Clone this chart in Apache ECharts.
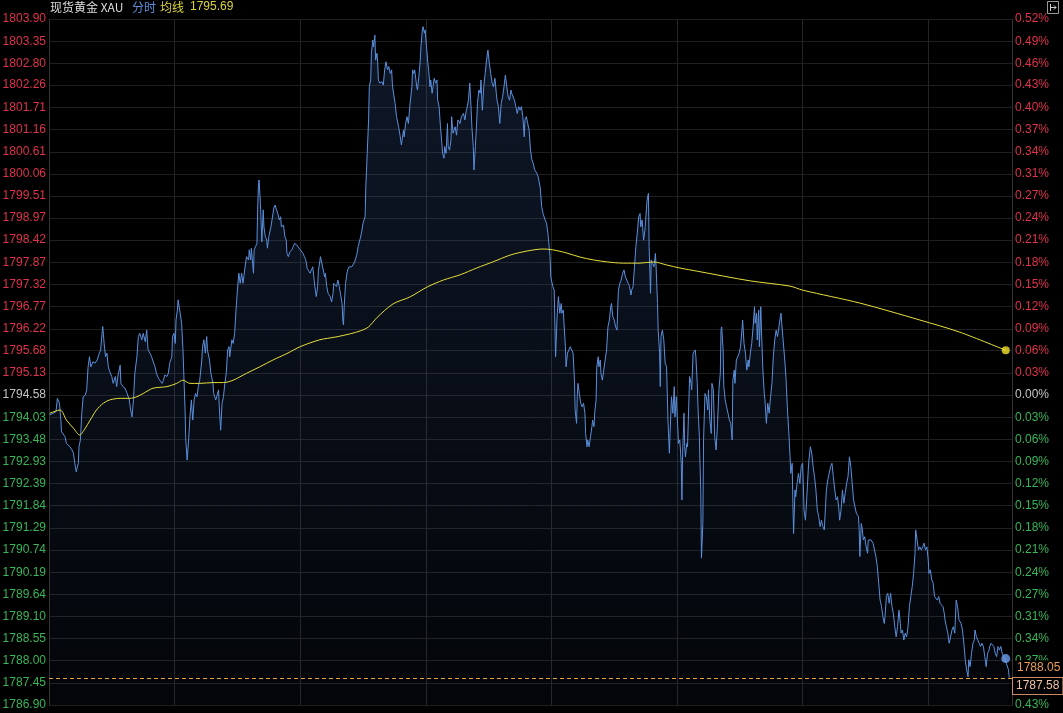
<!DOCTYPE html>
<html><head><meta charset="utf-8">
<script src="https://cdn.jsdelivr.net/npm/echarts@6/dist/echarts.min.js"></script>
<style>html,body{margin:0;padding:0;background:#000;overflow:hidden}#c{width:1063px;height:713px}</style>
</head><body><div id="c"></div>
<script>
// ---------- data ----------
const titleName = '现货黄金 XAU';
const modeName = '分时';
const avgName = '均线';
const prevClose = 1794.58;
const lastPrice = 1787.58;
const cursorTime = 1371;
const cursorPrice = 1788.05;
const avgLast = 1795.69;
const sessionMinutes = 1380;   // 23h session
const gridMinutes = 180;       // vertical grid every 3h

const priceTickLabels = ['1803.90','1803.35','1802.80','1802.26','1801.71','1801.16','1800.61','1800.06','1799.51','1798.97','1798.42','1797.87','1797.32','1796.77','1796.22','1795.68','1795.13','1794.58','1794.03','1793.48','1792.93','1792.39','1791.84','1791.29','1790.74','1790.19','1789.64','1789.10','1788.55','1788.00','1787.45','1786.90'];
const pctTickLabels = ['0.52%','0.49%','0.46%','0.43%','0.40%','0.37%','0.34%','0.31%','0.27%','0.24%','0.21%','0.18%','0.15%','0.12%','0.09%','0.06%','0.03%','0.00%','0.03%','0.06%','0.09%','0.12%','0.15%','0.18%','0.21%','0.24%','0.27%','0.31%','0.34%','0.37%','0.40%','0.43%'];

// [minute of session, price]
const segA = [[1,1794.09],[6,1794.13],[10,1794.17],[12,1794.50],[15,1794.38],[17,1793.96],[18,1793.67],[20,1793.63],[23,1793.55],[25,1793.38],[30,1793.30],[33,1793.22],[35,1793.14],[37,1792.89],[39,1792.68],[41,1792.64],[42,1792.89],[43,1793.30],[45,1793.47],[47,1794.13],[49,1794.54],[52,1794.58],[54,1794.71],[56,1795.28],[58,1795.53],[60,1795.28],[63,1795.41],[66,1795.37],[69,1795.45],[72,1795.61],[74,1795.70],[76,1796.11],[77,1796.28],[79,1795.86],[81,1795.53],[83,1795.62],[85,1795.28],[87,1795.16],[90,1795.04],[92,1794.87],[95,1795.04],[97,1794.79],[99,1795.08],[102,1795.32],[103,1794.87],[106,1794.79],[109,1794.75],[112,1794.62],[115,1794.46],[117,1794.21],[119,1794.04],[121,1794.46],[123,1795.12],[126,1795.53],[128,1796.03],[130,1796.11],[133,1795.95],[135,1796.11],[138,1795.90],[140,1796.19],[142,1795.70],[145,1795.61],[147,1795.53],[150,1795.37],[152,1795.28],[154,1795.12],[157,1794.99],[159,1794.95],[162,1794.87],[164,1794.95],[166,1795.08],[169,1795.04],[171,1795.12],[173,1795.37],[176,1795.53],[177,1796.03],[179,1796.11],[181,1795.86],[182,1796.44],[184,1796.69],[185,1796.94],[188,1796.61],[190,1796.36],[192,1795.70],[193,1795.20],[195,1794.21],[196,1793.47],[198,1792.97],[200,1793.47],[202,1794.04],[204,1794.46],[206,1793.96],[208,1794.46],[210,1794.62],[212,1794.54],[214,1794.79],[216,1794.95],[219,1795.45],[220,1795.78],[222,1795.95],[224,1795.62],[226,1796.03],[227,1795.70],[230,1795.45],[232,1795.12],[235,1794.87],[236,1794.62],[239,1794.46],[243,1794.71],[244,1794.29],[246,1793.71],[248,1794.38],[250,1794.54],[252,1794.87],[254,1795.12],[256,1795.70],[258,1795.78],[259,1795.53],[262,1795.95],[264,1795.86]];
const segB = [[266,1796.11],[268,1796.69],[270,1797.18],[272,1797.60],[274,1797.35],[276,1797.60],[278,1797.35],[281,1797.76],[283,1798.01],[286,1797.93],[287,1798.18],[289,1797.93],[290,1798.22],[293,1797.60],[294,1798.18],[296,1798.26],[298,1798.34],[299,1799.17],[300,1799.74],[301,1799.91],[303,1799.33],[305,1798.38],[307,1799.17],[308,1798.75],[310,1798.51],[312,1798.42],[313,1798.22],[315,1798.51],[318,1798.75],[321,1799.08],[322,1799.21],[324,1799.29],[326,1799.17],[328,1799.08],[330,1798.92],[332,1799.00],[333,1798.75],[336,1798.79],[338,1798.51],[340,1798.42],[341,1798.09],[343,1798.01],[345,1798.13],[348,1798.18],[350,1798.26],[352,1798.34],[355,1798.30],[357,1798.26],[360,1798.18],[362,1798.22],[364,1798.09],[366,1798.01],[368,1797.93],[370,1797.72],[372,1797.68],[374,1797.60],[376,1797.68],[378,1797.76],[380,1797.43],[381,1797.27],[383,1797.02],[385,1797.27],[386,1797.68],[387,1797.76],[389,1798.01],[391,1798.05],[393,1797.68],[395,1797.51],[396,1797.60],[398,1797.27],[400,1797.10],[403,1797.02],[405,1796.89],[407,1797.10],[408,1797.35],[410,1797.39],[412,1797.27],[414,1797.43],[416,1797.27],[418,1797.31],[420,1796.85],[421,1796.44],[422,1796.32],[423,1796.77],[425,1797.35],[427,1797.60],[428,1797.68],[430,1797.76],[432,1797.80],[434,1797.76],[436,1797.80],[438,1797.88],[441,1798.05],[443,1798.26],[446,1798.46]];
const segC = [[448,1798.62],[450,1798.84],[453,1799.00],[454,1799.74],[456,1800.57],[458,1801.40],[459,1802.22],[461,1802.39],[462,1803.05],[464,1803.38],[465,1803.21],[467,1803.50],[468,1802.88],[470,1803.05],[471,1802.84],[472,1802.39],[474,1802.31],[477,1802.35],[479,1802.26],[481,1802.64],[483,1802.84],[485,1802.64],[487,1802.72],[489,1802.55],[491,1802.64],[492,1802.31],[493,1802.14],[496,1801.81],[498,1801.48],[501,1801.23],[503,1801.02],[505,1800.78],[508,1801.15],[509,1800.98],[511,1801.31],[513,1801.48],[515,1801.31],[517,1801.73],[520,1802.22],[521,1802.64],[523,1802.55],[524,1802.64],[527,1802.22],[528,1802.14],[530,1802.47],[532,1802.88],[533,1803.21],[535,1803.63],[536,1803.71],[538,1803.55],[539,1803.63],[541,1803.21],[543,1802.80],[544,1802.64],[546,1802.22],[547,1802.39],[549,1802.06],[552,1802.43],[554,1802.31],[556,1802.39],[557,1801.89],[559,1801.73],[561,1801.23],[563,1800.82],[564,1800.57],[566,1800.45],[567,1800.74],[569,1800.57],[571,1801.31],[572,1800.74],[574,1800.65],[576,1800.90],[577,1801.48],[579,1801.07],[582,1801.23],[584,1801.02],[586,1801.40],[589,1801.31],[591,1801.48],[594,1801.56],[596,1801.40],[598,1801.64],[599,1801.69],[601,1801.89],[603,1802.31],[605,1801.64],[606,1801.23],[608,1800.74],[609,1800.16],[611,1800.74],[613,1801.40],[614,1801.81],[616,1802.14],[618,1802.06],[619,1802.39],[621,1801.64],[623,1802.22],[625,1802.55],[627,1802.88],[629,1803.13],[631,1802.80],[633,1802.55],[635,1802.31],[637,1802.22],[639,1802.43],[641,1802.06],[642,1801.89],[644,1801.73],[646,1801.31],[648,1801.81],[650,1801.97],[652,1802.22],[654,1802.51],[656,1802.22],[658,1801.97],[660,1801.89],[662,1802.14],[663,1802.06],[665,1802.10],[667,1801.89],[669,1801.73],[671,1801.56],[673,1801.73],[675,1801.64],[677,1801.73],[679,1801.48],[681,1800.98],[682,1801.40],[684,1801.48],[686,1801.31],[688,1801.15],[690,1800.65],[692,1800.41],[694,1800.32],[696,1800.16],[699,1800.08],[701,1799.99]];
const segD = [[704,1799.71],[706,1799.25],[708,1799.08],[711,1798.92],[713,1798.84],[715,1798.59],[718,1798.01],[719,1797.51],[722,1797.27],[724,1797.18],[725,1796.27],[726,1795.53],[728,1796.50],[729,1796.77],[730,1797.02],[732,1796.61],[734,1796.85],[735,1796.61],[737,1796.69],[738,1796.36],[740,1795.78],[741,1795.28],[743,1795.62],[745,1795.70],[747,1795.78],[749,1795.74],[751,1795.62],[753,1794.95],[754,1794.21],[756,1793.88],[757,1794.54],[758,1794.87],[760,1794.62],[762,1794.38],[764,1794.29],[766,1794.38],[768,1794.13],[769,1793.63],[771,1793.30],[772,1793.47],[774,1793.30],[776,1793.55],[778,1793.80],[779,1793.96],[781,1793.80],[782,1794.13],[784,1794.46],[785,1795.28],[787,1795.53],[788,1795.28],[790,1795.45],[791,1795.12],[793,1794.95],[795,1795.20],[797,1795.45],[799,1795.70],[801,1796.27],[803,1796.44],[805,1796.77],[806,1796.85],[808,1796.52],[810,1796.44],[812,1796.27],[814,1796.19],[815,1796.77],[816,1797.18],[818,1797.35],[820,1797.43],[822,1797.60],[824,1797.68],[826,1797.51],[828,1797.43],[830,1797.35],[832,1797.27],[834,1797.06],[835,1797.18],[837,1797.27],[839,1797.76],[841,1798.26],[843,1798.59],[845,1799.00],[847,1799.08],[848,1798.75],[850,1798.92],[852,1798.42],[854,1798.67],[855,1798.92],[857,1799.41],[859,1799.58],[860,1798.26],[862,1797.10],[863,1797.93],[865,1797.84],[867,1797.76],[869,1798.09],[870,1797.76],[872,1796.85],[873,1796.19],[875,1795.61],[876,1794.79],[877,1796.03],[879,1796.19],[881,1795.95],[883,1795.37],[885,1795.28],[887,1793.96],[889,1793.14],[890,1793.63],[892,1794.54],[894,1794.13],[896,1794.79],[897,1794.04],[899,1794.54],[901,1793.80],[902,1793.38],[904,1793.47],[906,1792.89],[907,1791.98],[908,1793.14],[910,1794.13],[911,1793.30],[912,1793.05],[914,1793.38],[915,1793.30],[917,1794.46],[918,1795.04],[920,1794.87]];
const segE = [[921,1794.71],[923,1795.62],[926,1795.70],[927,1795.53],[929,1794.87],[930,1794.29],[932,1793.55],[933,1792.81],[934,1792.23],[935,1790.54],[937,1791.40],[938,1793.47],[939,1794.04],[940,1794.62],[942,1794.54],[944,1794.21],[945,1794.71],[947,1793.96],[949,1793.63],[950,1794.87],[952,1794.71],[954,1793.55],[956,1793.22],[958,1793.88],[960,1794.71],[962,1795.12],[963,1796.19],[964,1796.27],[966,1795.70],[967,1794.79],[969,1794.46],[971,1794.29],[973,1794.13],[975,1793.96],[977,1793.88],[979,1793.47],[980,1794.95],[982,1795.20],[983,1794.87],[985,1795.45],[987,1795.53],[989,1795.62],[991,1795.78],[993,1796.19],[994,1796.44],[996,1795.86],[998,1795.62],[1000,1795.20],[1002,1795.45],[1003,1795.28],[1005,1795.62],[1007,1795.86],[1009,1796.27],[1011,1796.77],[1012,1796.36],[1014,1796.61],[1015,1795.95],[1017,1796.69],[1018,1795.78],[1020,1796.77],[1021,1796.19],[1023,1795.20],[1025,1794.62],[1026,1794.46],[1028,1793.88],[1030,1794.38],[1032,1794.13],[1034,1794.54],[1036,1794.87],[1038,1795.53],[1040,1795.95],[1042,1796.19],[1044,1796.03],[1046,1796.27],[1048,1796.52],[1049,1796.61],[1050,1796.36],[1052,1795.95],[1054,1795.53],[1056,1795.04],[1058,1794.29],[1060,1793.71],[1062,1793.05],[1063,1792.64],[1065,1792.89],[1066,1791.90],[1067,1791.15],[1069,1792.23],[1070,1792.06],[1072,1792.39],[1074,1792.64],[1076,1792.39],[1078,1792.81],[1080,1792.89],[1082,1791.73],[1084,1791.48],[1086,1792.06],[1088,1792.72],[1089,1792.97],[1091,1793.30],[1093,1793.14],[1095,1792.81],[1097,1792.56],[1099,1792.23],[1101,1791.73],[1103,1791.57],[1105,1791.32],[1107,1791.48],[1109,1791.32],[1111,1791.24],[1112,1791.57],[1114,1792.23],[1116,1792.48],[1118,1792.64],[1120,1792.81],[1122,1792.89],[1124,1792.56],[1126,1792.23],[1128,1791.98],[1130,1792.06],[1132,1791.73],[1133,1791.48],[1135,1791.73],[1137,1792.23],[1139,1791.90],[1141,1792.15],[1143,1792.39],[1145,1792.56],[1147,1793.05],[1149,1792.81],[1151,1792.39]];
const segF = [[1153,1791.98],[1155,1791.81],[1157,1791.65],[1160,1791.57],[1161,1791.24],[1162,1790.58],[1164,1791.40],[1165,1791.32],[1167,1790.99],[1169,1791.07],[1171,1790.82],[1173,1790.66],[1174,1790.99],[1176,1791.03],[1178,1790.99],[1179,1790.99],[1181,1790.91],[1183,1790.74],[1185,1790.58],[1187,1790.33],[1189,1789.92],[1191,1789.50],[1193,1789.34],[1195,1789.09],[1197,1788.92],[1198,1789.09],[1200,1789.59],[1202,1789.67],[1204,1789.42],[1206,1789.67],[1208,1789.34],[1210,1789.17],[1212,1788.84],[1214,1788.59],[1216,1788.84],[1218,1789.25],[1220,1788.92],[1221,1788.68],[1223,1788.76],[1225,1788.51],[1227,1788.68],[1229,1788.59],[1231,1788.84],[1233,1789.34],[1235,1789.59],[1237,1789.83],[1239,1790.16],[1241,1790.66],[1242,1791.24],[1244,1790.99],[1246,1790.74],[1248,1790.82],[1250,1790.74],[1252,1790.82],[1254,1790.91],[1256,1790.74],[1258,1790.82],[1260,1790.49],[1261,1790.16],[1263,1790.25],[1265,1790.00],[1267,1789.92],[1269,1789.59],[1271,1789.59],[1273,1789.50],[1275,1789.59],[1277,1789.42],[1279,1789.42],[1281,1789.34],[1283,1789.17],[1284,1789.01],[1286,1788.84],[1288,1788.68],[1290,1788.43],[1292,1788.59],[1294,1788.76],[1296,1788.84],[1298,1788.68],[1300,1789.50],[1302,1789.34],[1304,1789.01],[1305,1789.01],[1307,1788.92],[1309,1788.76],[1311,1788.43],[1313,1788.02],[1315,1787.77],[1317,1787.60],[1318,1788.02],[1320,1787.85],[1322,1788.18],[1324,1788.43],[1326,1788.51],[1327,1788.76],[1329,1788.59],[1331,1788.51],[1333,1788.43],[1335,1788.35],[1337,1788.43],[1339,1788.35],[1341,1788.10],[1343,1787.85],[1345,1788.18],[1347,1788.26],[1348,1788.35],[1350,1788.43],[1352,1788.43],[1354,1788.35],[1356,1788.18],[1358,1788.10],[1360,1788.35],[1362,1788.26],[1364,1788.35],[1366,1788.18],[1368,1788.10],[1370,1788.02],[1371,1788.05],[1372,1787.93],[1375,1787.77],[1376,1787.58]];
const avgSeries = [[1,1794.13],[16,1794.21],[25,1793.96],[35,1793.76],[44,1793.59],[52,1793.76],[59,1793.96],[68,1794.21],[78,1794.38],[87,1794.46],[102,1794.50],[116,1794.50],[126,1794.54],[135,1794.62],[149,1794.75],[169,1794.79],[183,1794.87],[192,1794.95],[202,1794.87],[216,1794.87],[235,1794.89],[250,1794.89],[264,1794.95],[283,1795.12],[302,1795.28],[321,1795.45],[341,1795.61],[360,1795.78],[388,1795.95],[411,1796.02],[432,1796.10],[446,1796.17],[458,1796.27],[470,1796.50],[493,1796.84],[517,1797.01],[542,1797.26],[565,1797.43],[589,1797.56],[613,1797.73],[636,1797.88],[661,1798.05],[685,1798.15],[708,1798.20],[722,1798.18],[742,1798.10],[761,1798.00],[780,1797.93],[800,1797.88],[823,1797.85],[847,1797.85],[866,1797.88],[886,1797.80],[904,1797.73],[929,1797.65],[1005,1797.41],[1062,1797.28],[1080,1797.18],[1162,1796.86],[1248,1796.44],[1305,1796.14],[1371,1795.69]];

// ---------- build ----------
const priceSeries = segA.concat(segB, segC, segD, segE, segF);
const tickValues = priceTickLabels.map(Number);
const yMax = tickValues[0], yMin = tickValues[tickValues.length - 1];
const step = (yMax - yMin) / (tickValues.length - 1);
const idxOf = v => Math.max(0, Math.min(tickValues.length - 1, Math.round((yMax - v) / step)));
const colorFor = v => { const t = tickValues[idxOf(v)]; return Math.abs(t - prevClose) < 0.001 ? '#c4c4c4' : (t > prevClose ? '#e0324c' : '#39b55a'); };
const FONT = '"Liberation Sans", Arial, sans-serif';
const CJK = '"Noto Sans CJK SC", "Liberation Sans", sans-serif';

const chart = echarts.init(document.getElementById('c'), null, {renderer: 'canvas'});
const axisCommon = {
  type: 'value', min: yMin, max: yMax, scale: true,
  axisLine: {show: true, lineStyle: {color: '#333333', width: 1}},
  axisTick: {show: false, customValues: tickValues}
};
chart.setOption({
  backgroundColor: '#000000',
  animation: false,
  grid: {left: 49, right: 51, top: 19, bottom: 8, containLabel: false, outerBoundsMode: 'none'},
  xAxis: {
    type: 'value', min: 0, max: sessionMinutes, interval: gridMinutes,
    axisLabel: {show: false}, axisTick: {show: false}, axisLine: {show: false},
    splitLine: {show: true, lineStyle: {color: '#242424', width: 1}}
  },
  yAxis: [
    Object.assign({}, axisCommon, {
      position: 'left',
      axisLabel: {customValues: tickValues, formatter: v => priceTickLabels[idxOf(v)], color: v => colorFor(v), fontSize: 12, fontFamily: FONT, margin: 3},
      splitLine: {show: true, lineStyle: {color: '#1f1f1f', width: 1}}
    }),
    Object.assign({}, axisCommon, {
      position: 'right',
      axisLabel: {customValues: tickValues, formatter: v => pctTickLabels[idxOf(v)], color: v => colorFor(v), fontSize: 12, fontFamily: FONT, margin: 3, align: 'left'},
      splitLine: {show: false}
    })
  ],
  series: [
    {
      type: 'line', data: priceSeries, showSymbol: false, symbol: 'none', z: 3,
      lineStyle: {color: '#5b8fdc', width: 1},
      areaStyle: {color: new echarts.graphic.LinearGradient(0, 0, 0, 1, [
        {offset: 0, color: 'rgba(62,100,170,0.34)'},
        {offset: 1, color: 'rgba(62,100,170,0.07)'}
      ])}
    },
    {
      type: 'line', data: avgSeries, showSymbol: false, symbol: 'none', smooth: 0.3, z: 4,
      lineStyle: {color: '#e6e03a', width: 1}
    },
    {
      type: 'scatter', data: [[cursorTime, cursorPrice]], symbolSize: 9, z: 6,
      itemStyle: {color: '#6c9ff0'}
    },
    {
      type: 'scatter', data: [avgSeries[avgSeries.length - 1]], symbolSize: 8, z: 6,
      itemStyle: {color: '#f2e42e'}
    }
  ]
});

const yCursor = chart.convertToPixel({yAxisIndex: 0}, cursorPrice);
const yLast = chart.convertToPixel({yAxisIndex: 0}, lastPrice);
const xLeft = chart.convertToPixel({xAxisIndex: 0}, 0);
const xRight = chart.convertToPixel({xAxisIndex: 0}, sessionMinutes);
const yLine = Math.round(yLast) + 0.5;
chart.setOption({
  graphic: [
    {type: 'line', z: 40, silent: true, shape: {x1: xLeft, y1: yLine, x2: xRight, y2: yLine},
     style: {stroke: '#e8a23a', lineWidth: 1, lineDash: [4, 3]}},
    {type: 'text', left: 50, top: 1, style: {text: titleName, fill: '#dedede', font: '12px ' + CJK}},
    {type: 'text', left: 132, top: 1, style: {text: modeName, fill: '#5b8fdc', font: '12px ' + CJK}},
    {type: 'text', left: 160, top: 1, style: {text: avgName, fill: '#dcd43c', font: '12px ' + CJK}},
    {type: 'text', left: 190, top: 1, style: {text: avgLast.toFixed(2), fill: '#dcd43c', font: '12px ' + FONT}},
    {type: 'rect', shape: {x: 1047.5, y: 1.5, width: 11, height: 12}, style: {fill: 'none', stroke: '#9a9a9a', lineWidth: 1}},
    {type: 'polyline', shape: {points: [[1050.5, 4], [1050.5, 11]]}, style: {stroke: '#cfcfcf', lineWidth: 1}},
    {type: 'polyline', shape: {points: [[1051, 7.5], [1056, 7.5]]}, style: {stroke: '#cfcfcf', lineWidth: 1}},
    {type: 'polyline', shape: {points: [[1054, 5.5], [1056, 7.5], [1054, 9.5]]}, style: {stroke: '#cfcfcf', lineWidth: 1, fill: 'none'}},
    {type: 'text', x: xRight + 3, y: yCursor + 9, z: 50,
     style: {text: cursorPrice.toFixed(2), fill: '#e89c55', font: '12px ' + FONT, verticalAlign: 'middle', backgroundColor: '#000', padding: [1, 2, 1, 2]}},
    {type: 'text', x: xRight + 1, y: yLast + 8.5, z: 50,
     style: {text: lastPrice.toFixed(2), fill: '#ecc2a8', font: '12px ' + FONT, verticalAlign: 'middle', backgroundColor: '#000', borderColor: '#c98a66', borderWidth: 1, padding: [2, 3, 2, 3]}}
  ]
});
</script>
</body></html>
